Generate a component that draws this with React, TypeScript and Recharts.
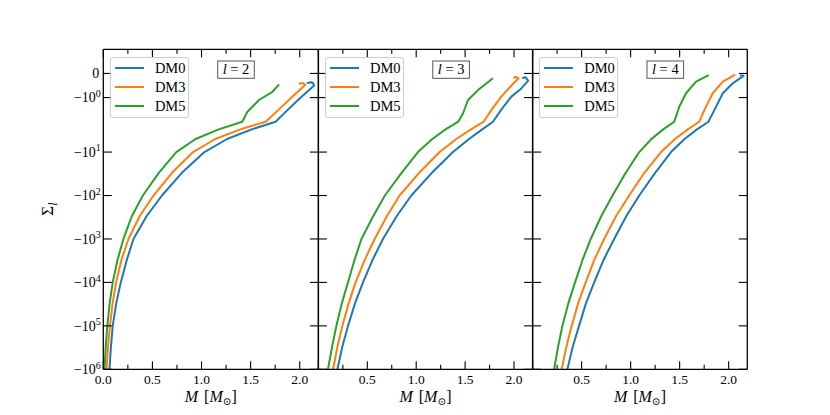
import React from 'react';
import { LineChart, Line, XAxis, YAxis, Legend } from 'recharts';

const FONT = "'Liberation Serif', 'DejaVu Serif', serif";

// ---------- data ----------
const SERIES_NAMES = ['DM0', 'DM3', 'DM5'];
const SERIES_COLORS = ['#1f77b4', '#ff7f0e', '#2ca02c'];
const PANEL_L = ['2', '3', '4'];

const X_MAJOR = [0, 0.5, 1.0, 1.5, 2.0];
const X_MINOR = [0.25, 0.75, 1.25, 1.75];
const X_DOMAIN: [number, number] = [0, 2.19];
const Y_TICK_VALUES = [0, -1, -10, -100, -1000, -10000, -100000, -1000000];
const Y_TICK_EXPONENTS = [null, 0, 1, 2, 3, 4, 5, 6];
const Y_LIMITS = [-1e6, 1];
const LINTHRESH = 2;

// l = 2
const L2_DM0_SIGMA = [-1e6, -3e5, -1e5, -3e4, -1e4, -3e3, -1e3, -300, -100, -30, -10, -5, -3, -2, -1.5, -1, -0.5, -0.38, -0.37, -0.41];
const L2_DM0_MASS = [0.063, 0.078, 0.096, 0.132, 0.178, 0.24, 0.307, 0.44, 0.597, 0.8, 1.03, 1.26, 1.51, 1.755, 1.88, 2.01, 2.147, 2.13, 2.1, 2.07];
const L2_DM3_SIGMA = [-1e6, -3e5, -1e5, -3e4, -1e4, -3e3, -1e3, -300, -100, -30, -10, -5, -3, -2, -1.5, -1, -0.48, -0.4, -0.43];
const L2_DM3_MASS = [0.033, 0.048, 0.068, 0.095, 0.13, 0.185, 0.256, 0.37, 0.511, 0.7, 0.914, 1.14, 1.395, 1.653, 1.786, 1.916, 2.055, 2.035, 1.99];
const L2_DM5_SIGMA = [-1e6, -3e5, -1e5, -3e4, -1e4, -3e3, -1e3, -300, -100, -30, -10, -5, -3, -2, -1.6, -1.1, -0.76, -0.45];
const L2_DM5_MASS = [0.012, 0.025, 0.041, 0.065, 0.096, 0.145, 0.205, 0.29, 0.403, 0.565, 0.743, 0.94, 1.175, 1.415, 1.466, 1.585, 1.722, 1.79];

// l = 3
const L3_DM0_SIGMA = [-1e6, -3e5, -1e5, -3e4, -1e4, -3e3, -1e3, -300, -100, -30, -10, -5, -3, -2, -1.5, -0.96, -0.62, -0.3, -0.15, -0.2];
const L3_DM0_MASS = [0.194, 0.245, 0.303, 0.375, 0.456, 0.555, 0.66, 0.8, 0.95, 1.16, 1.376, 1.54, 1.675, 1.785, 1.87, 1.973, 2.075, 2.145, 2.115, 2.085];
const L3_DM3_SIGMA = [-1e6, -3e5, -1e5, -3e4, -1e4, -3e3, -1e3, -300, -100, -30, -10, -5, -3, -2, -1.52, -0.96, -0.5, -0.2, -0.14, -0.2];
const L3_DM3_MASS = [0.15, 0.195, 0.245, 0.31, 0.38, 0.475, 0.575, 0.7, 0.83, 1.03, 1.24, 1.41, 1.56, 1.69, 1.768, 1.87, 1.973, 2.045, 2.015, 1.995];
const L3_DM5_SIGMA = [-1e6, -3e5, -1e5, -3e4, -1e4, -3e3, -1e3, -300, -100, -30, -10, -5, -3, -2, -1.65, -1.1, -0.69, -0.2];
const L3_DM5_MASS = [0.098, 0.14, 0.184, 0.24, 0.302, 0.37, 0.44, 0.56, 0.68, 0.85, 1.018, 1.165, 1.3, 1.43, 1.479, 1.53, 1.632, 1.785];

// l = 4
const L4_DM0_SIGMA = [-1e6, -3e5, -1e5, -3e4, -1e4, -3e3, -1e3, -300, -100, -30, -10, -5, -3, -2, -1.52, -0.82, -0.41, -0.1, -0.07];
const L4_DM0_MASS = [0.355, 0.41, 0.474, 0.545, 0.628, 0.725, 0.832, 0.955, 1.088, 1.25, 1.412, 1.55, 1.677, 1.793, 1.854, 1.94, 2.042, 2.151, 2.115];
const L4_DM3_SIGMA = [-1e6, -3e5, -1e5, -3e4, -1e4, -3e3, -1e3, -300, -100, -30, -10, -5, -3, -2, -1.52, -0.82, -0.34, -0.07, -0.1];
const L4_DM3_MASS = [0.297, 0.345, 0.399, 0.465, 0.542, 0.63, 0.73, 0.85, 0.985, 1.14, 1.31, 1.453, 1.583, 1.7, 1.752, 1.837, 1.94, 2.059, 2.035];
const L4_DM5_SIGMA = [-1e6, -3e5, -1e5, -3e4, -1e4, -3e3, -1e3, -300, -100, -30, -10, -5, -3, -2, -1.38, -0.82, -0.34, -0.07];
const L4_DM5_MASS = [0.219, 0.26, 0.304, 0.365, 0.433, 0.51, 0.593, 0.7, 0.815, 0.95, 1.088, 1.212, 1.332, 1.445, 1.496, 1.565, 1.667, 1.797];

const PANEL_SERIES = [
  [[L2_DM0_MASS, L2_DM0_SIGMA], [L2_DM3_MASS, L2_DM3_SIGMA], [L2_DM5_MASS, L2_DM5_SIGMA]],
  [[L3_DM0_MASS, L3_DM0_SIGMA], [L3_DM3_MASS, L3_DM3_SIGMA], [L3_DM5_MASS, L3_DM5_SIGMA]],
  [[L4_DM0_MASS, L4_DM0_SIGMA], [L4_DM3_MASS, L4_DM3_SIGMA], [L4_DM5_MASS, L4_DM5_SIGMA]],
];

// ---------- layout ----------
const W = 830;
const H = 415;
const PANEL_LEFT = [103.3, 318.4, 532.6];
const PANEL_RIGHT = [318.4, 532.6, 747.3];
const PLOT_TOP = 49.3;
const PLOT_BOTTOM = 369.3;
const AXIS_SIZE = 1;
const MAJOR_LEN = 8;
const MINOR_LEN = 4.5;
const Y_TICK_LEN = 8.5;
const TICK_W = 1.1;
const FRAME = { stroke: '#000', strokeWidth: 1.3 };

// matplotlib-style symmetric log transform (base 10, linscale 1)
const LINSCALE = 1 / (1 - 1 / 10);
const symlog = (v: number) => {
  const a = Math.abs(v);
  const s = v < 0 ? -1 : 1;
  return a <= LINTHRESH ? (s * a * LINSCALE) / LINTHRESH : s * (LINSCALE + Math.log10(a / LINTHRESH));
};

const Y_DOMAIN: [number, number] = [symlog(Y_LIMITS[0]), symlog(Y_LIMITS[1])];
const Y_TICKS = Y_TICK_VALUES.map(symlog);
const X_TICKS = [...X_MAJOR, ...X_MINOR].sort((a, b) => a - b);

const isMajor = (v: number) => X_MAJOR.some((m) => Math.abs(m - v) < 1e-9);

const BottomTick = (p: any) => {
  const { x, y, payload, showZero } = p;
  const v = payload.value;
  const major = isMajor(v);
  return (
    <g>
      <line x1={x} y1={y} x2={x} y2={y - (major ? MAJOR_LEN : MINOR_LEN)} stroke="#000" strokeWidth={TICK_W} />
      {major && (showZero || v !== 0) && (
        <text x={x} y={y + 14.5} textAnchor="middle" fontFamily={FONT} fontSize={13.5} fill="#000">
          {v.toFixed(1)}
        </text>
      )}
    </g>
  );
};

const TopTick = (p: any) => {
  const { x, y, payload } = p;
  const major = isMajor(payload.value);
  return <line x1={x} y1={y} x2={x} y2={y + (major ? MAJOR_LEN : MINOR_LEN)} stroke="#000" strokeWidth={TICK_W} />;
};

const LeftTick = (p: any) => {
  const { x, y, payload, showLabels } = p;
  const idx = Y_TICKS.findIndex((t) => Math.abs(t - payload.value) < 1e-9);
  const exp = idx >= 0 ? Y_TICK_EXPONENTS[idx] : null;
  return (
    <g>
      <line x1={x} y1={y} x2={x + Y_TICK_LEN} y2={y} stroke="#000" strokeWidth={TICK_W} />
      {showLabels && idx >= 0 && (
        exp === null ? (
          <text x={x - 4} y={y + 4.8} textAnchor="end" fontFamily={FONT} fontSize={14} fill="#000">0</text>
        ) : (
          <text x={x - 2.5} y={y + 4.8} textAnchor="end" fontFamily={FONT} fontSize={14} fill="#000">
            <tspan>{'\u221210'}</tspan>
            <tspan dy={-5.5} fontSize={10}>{String(exp)}</tspan>
          </text>
        )
      )}
    </g>
  );
};

const RightTick = (p: any) => {
  const { x, y } = p;
  return <line x1={x} y1={y} x2={x - Y_TICK_LEN} y2={y} stroke="#000" strokeWidth={TICK_W} />;
};

const LegendBox = (props: any) => {
  const payload = props.payload || [];
  return (
    <div
      style={{
        position: 'relative',
        width: 79,
        height: 61,
        boxSizing: 'border-box',
        border: '1px solid #cccccc',
        borderRadius: 3,
        background: 'rgba(255,255,255,0.8)',
        fontFamily: FONT,
        fontSize: 14.5,
        color: '#000',
      }}
    >
      {payload.map((item: any, i: number) => (
        <div key={i} style={{ position: 'absolute', left: 0, top: 10 + i * 19.2 - 10, width: '100%', height: 20 }}>
          <div style={{ position: 'absolute', left: 3.7, top: 9, width: 29.3, height: 2, background: item.color }} />
          <span style={{ position: 'absolute', left: 44, top: 0, lineHeight: '20px', whiteSpace: 'nowrap' }}>{item.value}</span>
        </div>
      ))}
    </div>
  );
};

function Panel({ index }: { index: number }) {
  const left = PANEL_LEFT[index];
  const right = PANEL_RIGHT[index];
  const margin = {
    top: PLOT_TOP - AXIS_SIZE,
    bottom: H - PLOT_BOTTOM - AXIS_SIZE,
    left: left - AXIS_SIZE,
    right: W - right - AXIS_SIZE,
  };
  const series = PANEL_SERIES[index];
  return (
    <div style={{ position: 'absolute', left: 0, top: 0 }}>
      <LineChart width={W} height={H} margin={margin}>
        <XAxis
          xAxisId="b"
          orientation="bottom"
          type="number"
          dataKey="m"
          domain={X_DOMAIN}
          allowDataOverflow
          ticks={X_TICKS}
          interval={0}
          height={AXIS_SIZE}
          tickSize={0}
          tickMargin={0}
          tickLine={false}
          axisLine={FRAME}
          tick={(p: any) => <BottomTick {...p} showZero={index === 0} />}
        />
        <XAxis
          xAxisId="t"
          orientation="top"
          type="number"
          dataKey="m"
          domain={X_DOMAIN}
          allowDataOverflow
          ticks={X_TICKS}
          interval={0}
          height={AXIS_SIZE}
          tickSize={0}
          tickMargin={0}
          tickLine={false}
          axisLine={FRAME}
          tick={(p: any) => <TopTick {...p} />}
        />
        <YAxis
          yAxisId="l"
          orientation="left"
          type="number"
          dataKey="t"
          domain={Y_DOMAIN}
          allowDataOverflow
          ticks={Y_TICKS}
          interval={0}
          width={AXIS_SIZE}
          tickSize={0}
          tickMargin={0}
          tickLine={false}
          axisLine={FRAME}
          tick={(p: any) => <LeftTick {...p} showLabels={index === 0} />}
        />
        <YAxis
          yAxisId="r"
          orientation="right"
          type="number"
          dataKey="t"
          domain={Y_DOMAIN}
          allowDataOverflow
          ticks={Y_TICKS}
          interval={0}
          width={AXIS_SIZE}
          tickSize={0}
          tickMargin={0}
          tickLine={false}
          axisLine={FRAME}
          tick={(p: any) => <RightTick {...p} />}
        />
        {series.map(([mass, sigma], si) => (
          <Line
            key={SERIES_NAMES[si]}
            name={SERIES_NAMES[si]}
            xAxisId="b"
            yAxisId="l"
            data={mass.map((m, i) => ({ m, t: symlog(sigma[i]) }))}
            dataKey="t"
            type="linear"
            stroke={SERIES_COLORS[si]}
            strokeWidth={2}
            strokeLinejoin="round"
            dot={false}
            activeDot={false}
            isAnimationActive={false}
          />
        ))}
        <Legend
          layout="vertical"
          align="center"
          verticalAlign="middle"
          wrapperStyle={{ left: left + 6.6, top: 56.7, width: 79, height: 61 }}
          content={(p: any) => <LegendBox {...p} />}
        />
      </LineChart>
    </div>
  );
}

function Overlay() {
  return (
    <svg width={W} height={H} style={{ position: 'absolute', left: 0, top: 0, pointerEvents: 'none' }}>
      {PANEL_LEFT.map((left, i) => {
        const cx = (left + PANEL_RIGHT[i]) / 2;
        const bx = left + 114.4;
        return (
          <g key={i}>
            <rect x={bx} y={61} width={36.6} height={17.3} fill="#fff" stroke="#555" strokeWidth={1} />
            <text x={bx + 18.3} y={74.3} textAnchor="middle" fontFamily={FONT} fontSize={14.5} fill="#000">
              <tspan fontStyle="italic">l</tspan>
              <tspan>{' = '}</tspan>
              <tspan>{PANEL_L[i]}</tspan>
            </text>
            <text x={cx} y={402} textAnchor="middle" fontFamily={FONT} fontSize={16} fill="#000">
              <tspan fontStyle="italic">M</tspan>
              <tspan dx={6}>[</tspan>
              <tspan fontStyle="italic">M</tspan>
              <tspan fontSize={10.5} dy={2.5}>{'\u2299'}</tspan>
              <tspan dy={-2.5}>]</tspan>
            </text>
          </g>
        );
      })}
      <text x={53} y={209} transform="rotate(-90 53 209)" textAnchor="middle" fontFamily={FONT} fontSize={17} fill="#000">
        <tspan>{'\u03A3'}</tspan>
        <tspan fontStyle="italic" fontSize={12} dy={4}>l</tspan>
      </text>
    </svg>
  );
}

export default function App() {
  return (
    <div style={{ position: 'fixed', left: 0, top: 0, width: W, height: H, background: '#fff', overflow: 'hidden' }}>
      {[0, 1, 2].map((i) => (
        <Panel key={i} index={i} />
      ))}
      <Overlay />
    </div>
  );
}
